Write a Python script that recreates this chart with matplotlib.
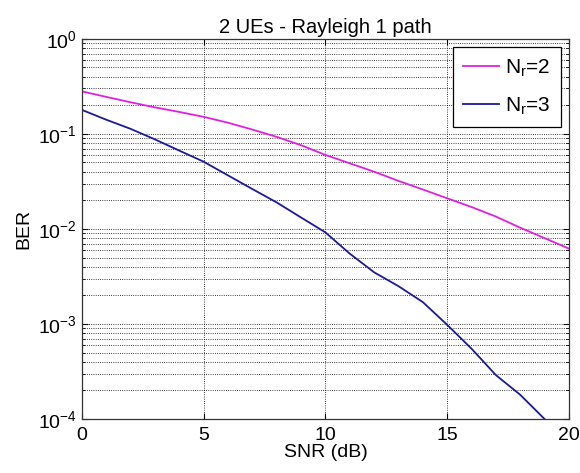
import numpy as np
import matplotlib
matplotlib.use("Agg")
import matplotlib.pyplot as plt

# BER vs SNR
snr_nr2 = [0, 1, 2, 3, 4, 5, 6, 7, 8, 9, 10, 11, 12, 13, 14, 15, 16, 17, 18, 19, 20]
ber_nr2 = [0.28, 0.245, 0.215, 0.19, 0.17, 0.151, 0.131, 0.111, 0.093, 0.076, 0.060,
           0.049, 0.040, 0.032, 0.026, 0.021, 0.017, 0.0135, 0.0103, 0.0080, 0.0062]

snr_nr3 = [0, 1, 2, 3, 4, 5, 6, 7, 8, 9, 10, 11, 12, 13, 14, 15, 16, 17, 18, 19]
ber_nr3 = [0.179, 0.141, 0.113, 0.0875, 0.0667, 0.051, 0.0366, 0.0263, 0.019, 0.0132,
           0.0092, 0.0055, 0.0035, 0.0025, 0.0017, 0.00098, 0.00055, 0.00029, 0.00018, 0.0001]

labels = [r"N$_r$=2", r"N$_r$=3"]
colors = ["#e020e0", "#1a1a9c"]

plt.rcParams["font.family"] = ["Liberation Sans", "DejaVu Sans"]
plt.rcParams["mathtext.fontset"] = "custom"
plt.rcParams["mathtext.rm"] = "Liberation Sans"
plt.rcParams["mathtext.it"] = "Liberation Sans"
plt.rcParams["mathtext.default"] = "regular"

fig = plt.figure(figsize=(5.8, 4.73), dpi=100)
ax = fig.add_axes([0.141, 0.114, 0.840, 0.804])

ax.semilogy(snr_nr2, ber_nr2, color=colors[0], lw=1.3, label=labels[0])
ax.semilogy(snr_nr3, ber_nr3, color=colors[1], lw=1.3, label=labels[1])

ax.set_xlim(0, 20)
ax.set_ylim(1e-4, 1e0)
ax.set_xticks([0, 5, 10, 15, 20])
ax.grid(True, which="major", axis="both", linestyle=":", color="black", lw=0.6)
ax.grid(True, which="minor", axis="y", linestyle=":", color="black", lw=0.6)
ax.tick_params(which="both", direction="in", top=True, right=True, labelsize=14)
ax.tick_params(which="major", length=4)
ax.tick_params(which="minor", length=2)
ax.tick_params(axis="x", pad=6)
for s in ax.spines.values():
    s.set_color("#333333")
    s.set_linewidth(0.9)

ax.set_xlabel("SNR (dB)", fontsize=14, labelpad=0)
ax.set_ylabel("BER", fontsize=14, labelpad=4)
ax.set_title("2 UEs - Rayleigh 1 path", fontsize=14.5, pad=4)

leg = ax.legend(loc="upper right", fontsize=15, fancybox=False, framealpha=1,
                edgecolor="black", handlelength=1.75, handletextpad=0.25,
                labelspacing=0.8, borderpad=0.5, borderaxespad=0.4)
leg.get_frame().set_linewidth(0.9)

fig.savefig("out.png", dpi=100)
